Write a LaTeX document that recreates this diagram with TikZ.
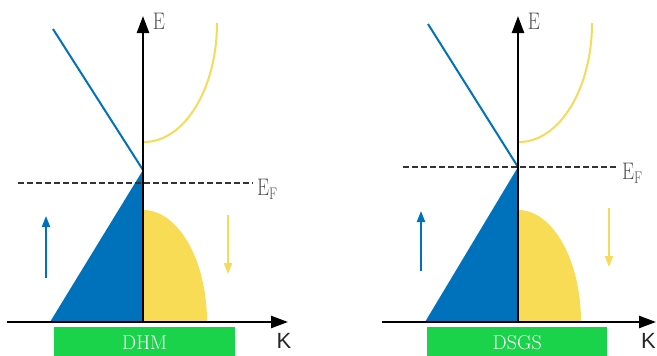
\documentclass[tikz,border=0pt]{standalone}
\usepackage{fontspec}
\newfontfamily\ksans{Liberation Sans}
\usetikzlibrary{arrows.meta}
\definecolor{bandblue}{HTML}{0072BC}
\definecolor{bandyellow}{HTML}{F8DC55}
\definecolor{curveyellow}{HTML}{F6DA5A}
\definecolor{bargreen}{HTML}{1BD24B}
\definecolor{labelgray}{HTML}{505050}
\tikzset{
  axisline/.style={line width=2.4pt, black, -{Triangle[length=17pt,width=12pt]}},
  blueline/.style={line width=2pt, bandblue},
  yellowline/.style={line width=2pt, curveyellow},
  fermiline/.style={line width=1.5pt, black!80, dash pattern=on 6pt off 3pt},
  spinup/.style={line width=2pt, bandblue, -{Triangle[length=11pt,width=8pt]}},
  spindown/.style={line width=2pt, curveyellow, -{Triangle[length=11pt,width=8pt]}},
  elabel/.style={text=labelgray, font=\fontsize{24}{24}\selectfont, inner sep=0pt, xscale=0.8},
  klabel/.style={text=black!85, font=\ksans\fontsize{22}{22}\selectfont, inner sep=0pt},
  barbox/.style={fill=bargreen, draw=none, text=white, font=\fontsize{20}{20}\selectfont, inner sep=0pt}
}
\begin{document}
\begin{tikzpicture}[x=1pt,y=-1pt]
\useasboundingbox (0,0) rectangle (657,356);
% ---------------- left panel (DHM) ----------------
\fill[bandblue] (50,322) -- (143,170) -- (143,322) -- cycle;
\fill[bandyellow] (143,210) arc[start angle=90, end angle=0, x radius=64, y radius=-112] -- (143,322) -- cycle;
\draw[blueline] (53,29) -- (143,170);
\draw[yellowline] (144,142) arc[start angle=270, end angle=360, x radius=73, y radius=-119];
\draw[fermiline] (18,183) -- (253,183);
\node[barbox, minimum width=181pt, minimum height=30pt, anchor=north west] (barL) at (54,327) {DHM};
\coordinate (kLs) at (7,322);
\coordinate (kLe) at (288,322);
\coordinate (eLs) at (143,323);
\coordinate (eLe) at (143,16);
\draw[axisline] (kLs) -- (kLe);
\draw[axisline] (eLs) -- (eLe);
\node[elabel] (EL) at (159,21) {E};
\node[elabel, anchor=west] (EFL) at (257,189) {E$_{\mathrm{F}}$};
\node[klabel] (KL) at (284,341) {K};
\coordinate (upLs) at (46,278);
\coordinate (upLe) at (46,216);
\draw[spinup] (upLs) -- (upLe);
\coordinate (dnLs) at (228,215);
\coordinate (dnLe) at (228,274);
\draw[spindown] (dnLs) -- (dnLe);
% ---------------- right panel (DSGS) ----------------
\fill[bandblue] (425,322) -- (518,167) -- (518,322) -- cycle;
\fill[bandyellow] (518,210) arc[start angle=90, end angle=0, x radius=63, y radius=-112] -- (518,322) -- cycle;
\draw[blueline] (428,24) -- (518,167);
\draw[yellowline] (519,142) arc[start angle=270, end angle=360, x radius=73, y radius=-119];
\draw[fermiline] (403,167) -- (617,167);
\node[barbox, minimum width=180pt, minimum height=30pt, anchor=north west] (barR) at (427,327) {DSGS};
\coordinate (kRs) at (382,322);
\coordinate (kRe) at (656,322);
\coordinate (eRs) at (518,323);
\coordinate (eRe) at (518,16);
\draw[axisline] (kRs) -- (kRe);
\draw[axisline] (eRs) -- (eRe);
\node[elabel] (ER) at (534,21) {E};
\node[elabel, anchor=west] (EFR) at (622,173) {E$_{\mathrm{F}}$};
\node[klabel, anchor=east] (KR) at (656,341) {K};
\coordinate (upRs) at (421,271);
\coordinate (upRe) at (421,211);
\draw[spinup] (upRs) -- (upRe);
\coordinate (dnRs) at (609,208);
\coordinate (dnRe) at (609,267);
\draw[spindown] (dnRs) -- (dnRe);
\end{tikzpicture}
\end{document}
